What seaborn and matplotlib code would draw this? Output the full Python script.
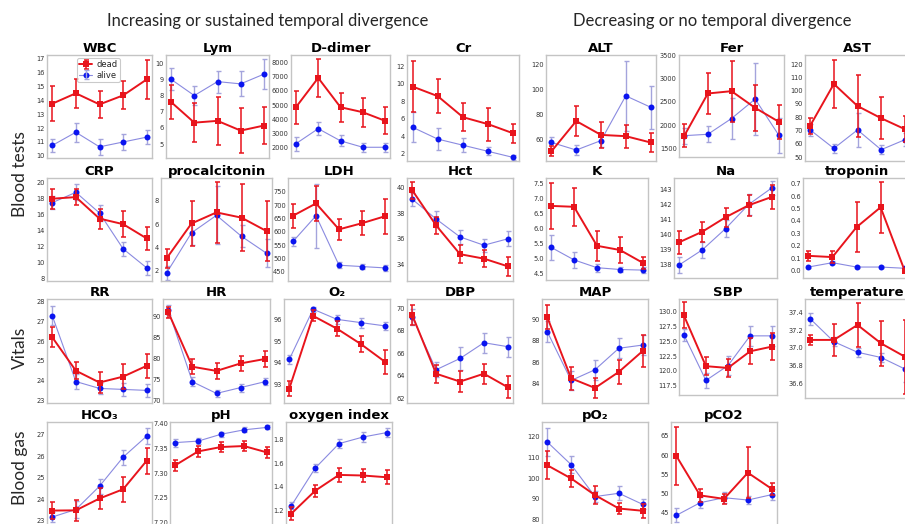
import matplotlib
matplotlib.use("Agg")
import matplotlib.pyplot as plt
import seaborn as sns
import pandas as pd
from matplotlib.legend_handler import HandlerTuple

# ---------------- data (5 time points per panel) ----------------
time_points = [0, 1, 2, 3, 4]
series_labels = ["dead", "alive"]

WBC_dead = [13.75, 14.5, 13.7, 14.35, 15.5]
WBC_dead_err = [1.25, 1.05, 0.95, 1.0, 1.4]
WBC_alive = [10.75, 11.7, 10.65, 11.0, 11.35]
WBC_alive_err = [0.5, 0.7, 0.6, 0.55, 0.5]
WBC_ticks = [10, 11, 12, 13, 14, 15, 16, 17]

Lym_dead = [7.6, 6.33, 6.44, 5.84, 6.15]
Lym_dead_err = [1.03, 1.2, 1.5, 1.4, 1.15]
Lym_alive = [9.0, 8.0, 8.86, 8.72, 9.32]
Lym_alive_err = [0.68, 0.58, 0.68, 0.77, 0.93]
Lym_ticks = [5, 6, 7, 8, 9, 10]

Ddim_dead = [4850, 6900, 4850, 4500, 3900]
Ddim_dead_err = [1150, 1350, 1000, 1000, 950]
Ddim_alive = [2300, 3350, 2500, 2050, 2050]
Ddim_alive_err = [480, 450, 380, 300, 300]
Ddim_ticks = [2000, 3000, 4000, 5000, 6000, 7000, 8000]

Cr_dead = [9.7, 8.6, 6.2, 5.4, 4.35]
Cr_dead_err = [2.95, 1.95, 1.6, 1.9, 1.05]
Cr_alive = [5.05, 3.7, 3.0, 2.3, 1.6]
Cr_alive_err = [1.7, 1.3, 0.8, 0.45, 0.3]
Cr_ticks = [2, 4, 6, 8, 10, 12]

ALT_dead = [51, 75, 64, 63, 58]
ALT_dead_err = [4, 12, 10, 9, 7.5]
ALT_alive = [58, 52, 59.5, 95, 86]
ALT_alive_err = [4.5, 4, 5, 28, 17]
ALT_ticks = [60, 80, 100, 120]

Fer_dead = [1765, 2680, 2730, 2370, 2070]
Fer_dead_err = [250, 450, 660, 500, 370]
Fer_alive = [1770, 1800, 2140, 2560, 1780]
Fer_alive_err = [170, 170, 450, 780, 380]
Fer_ticks = [1500, 2000, 2500, 3000, 3500]

AST_dead = [73.6, 105, 88.4, 79.2, 71]
AST_dead_err = [6, 18, 23, 16, 10]
AST_alive = [70.4, 56.5, 70.4, 55.5, 63]
AST_alive_err = [4.5, 3.5, 12.5, 3.5, 5]
AST_ticks = [50, 60, 70, 80, 90, 100, 110, 120]

CRP_dead = [18.0, 18.2, 15.5, 14.8, 13.0]
CRP_dead_err = [1.25, 1.0, 1.25, 1.6, 1.5]
CRP_alive = [17.5, 18.8, 16.2, 11.7, 9.3]
CRP_alive_err = [0.8, 1.0, 1.0, 0.9, 0.9]
CRP_ticks = [8, 10, 12, 14, 16, 18, 20]

PCT_dead = [3.05, 6.05, 7.0, 6.55, 5.4]
PCT_dead_err = [0.8, 1.9, 2.6, 2.85, 2.6]
PCT_alive = [1.8, 5.25, 6.75, 4.95, 3.5]
PCT_alive_err = [0.6, 1.05, 2.5, 0.95, 1.2]
PCT_ticks = [2, 4, 6, 8]

LDH_dead = [660, 706, 609, 632, 658]
LDH_dead_err = [45, 65, 40, 44, 65]
LDH_alive = [564, 660, 475, 470, 465]
LDH_alive_err = [17, 120, 12, 10, 10]
LDH_ticks = [450, 500, 550, 600, 650, 700, 750]

Hct_dead = [39.8, 37.05, 34.8, 34.45, 33.85]
Hct_dead_err = [0.65, 0.65, 0.7, 0.65, 0.75]
Hct_alive = [39.1, 37.55, 36.15, 35.5, 36.0]
Hct_alive_err = [0.5, 0.6, 0.55, 0.5, 0.6]
Hct_ticks = [34, 36, 38, 40]

K_dead = [6.75, 6.72, 5.42, 5.28, 4.85]
K_dead_err = [0.78, 0.63, 0.5, 0.43, 0.2]
K_alive = [5.37, 4.95, 4.69, 4.63, 4.61]
K_alive_err = [0.42, 0.27, 0.14, 0.09, 0.11]
K_ticks = [4.5, 5.0, 5.5, 6.0, 6.5, 7.0, 7.5]

Na_dead = [139.5, 140.2, 141.15, 141.95, 142.5]
Na_dead_err = [0.75, 0.65, 0.65, 0.7, 0.8]
Na_alive = [138.0, 139.0, 140.4, 142.0, 143.1]
Na_alive_err = [0.5, 0.55, 0.55, 0.7, 0.45]
Na_ticks = [138, 139, 140, 141, 142, 143]

Trop_dead = [0.12, 0.11, 0.35, 0.51, 0.0]
Trop_dead_err = [0.04, 0.045, 0.2, 0.205, 0.01]
Trop_alive = [0.03, 0.065, 0.03, 0.03, 0.02]
Trop_alive_err = [0.005, 0.01, 0.005, 0.005, 0.005]
Trop_ticks = [0.0, 0.1, 0.2, 0.3, 0.4, 0.5, 0.6, 0.7]

RR_dead = [26.2, 24.5, 23.9, 24.2, 24.75]
RR_dead_err = [0.52, 0.42, 0.55, 0.65, 0.6]
RR_alive = [27.3, 23.95, 23.6, 23.55, 23.5]
RR_alive_err = [0.48, 0.4, 0.3, 0.35, 0.33]
RR_ticks = [23, 24, 25, 26, 27, 28]

HR_dead = [91.05, 78.0, 77.0, 78.8, 79.85]
HR_dead_err = [1.4, 1.8, 2.0, 1.75, 1.9]
HR_alive = [91.6, 74.4, 71.6, 73.0, 74.4]
HR_alive_err = [1.2, 1.1, 0.85, 0.95, 0.85]
HR_ticks = [70, 75, 80, 85, 90]

O2_dead = [92.8, 96.16, 95.57, 94.86, 94.05]
O2_dead_err = [0.34, 0.25, 0.35, 0.35, 0.55]
O2_alive = [94.15, 96.47, 96.0, 95.85, 95.7]
O2_alive_err = [0.2, 0.12, 0.2, 0.23, 0.2]
O2_ticks = [93, 94, 95, 96]

DBP_dead = [69.4, 64.2, 63.5, 64.2, 63.0]
DBP_dead_err = [0.9, 0.8, 0.95, 0.9, 1.0]
DBP_alive = [69.25, 64.55, 65.55, 66.95, 66.6]
DBP_alive_err = [0.7, 0.65, 1.05, 0.9, 0.88]
DBP_ticks = [62, 64, 66, 68, 70]

MAP_dead = [90.2, 84.5, 83.6, 85.1, 87.05]
MAP_dead_err = [1.1, 1.05, 0.95, 1.1, 1.5]
MAP_alive = [88.85, 84.3, 85.3, 87.3, 87.6]
MAP_alive_err = [0.95, 0.9, 0.95, 0.95, 0.9]
MAP_ticks = [84, 86, 88, 90]

SBP_dead = [129.35, 120.8, 120.5, 123.3, 124.1]
SBP_dead_err = [2.2, 1.55, 1.45, 2.2, 2.25]
SBP_alive = [126.1, 118.4, 120.9, 125.9, 125.9]
SBP_alive_err = [1.0, 1.2, 1.55, 1.65, 1.65]
SBP_ticks = [117.5, 120.0, 122.5, 125.0, 127.5, 130.0]

Temp_dead = [37.09, 37.09, 37.26, 37.05, 36.9]
Temp_dead_err = [0.06, 0.18, 0.245, 0.255, 0.42]
Temp_alive = [37.33, 37.07, 36.95, 36.89, 36.76]
Temp_alive_err = [0.07, 0.05, 0.05, 0.05, 0.15]
Temp_ticks = [36.6, 36.8, 37.0, 37.2, 37.4]

HCO3_dead = [23.47, 23.48, 24.03, 24.46, 25.79]
HCO3_dead_err = [0.41, 0.48, 0.5, 0.58, 0.6]
HCO3_alive = [23.17, 23.52, 24.6, 25.95, 26.93]
HCO3_alive_err = [0.22, 0.4, 0.35, 0.35, 0.38]
HCO3_ticks = [23, 24, 25, 26, 27]

pH_dead = [7.3155, 7.344, 7.353, 7.355, 7.342]
pH_dead_err = [0.012, 0.011, 0.01, 0.01, 0.012]
pH_alive = [7.362, 7.365, 7.379, 7.388, 7.393]
pH_alive_err = [0.008, 0.006, 0.005, 0.005, 0.004]
pH_ticks = [7.20, 7.25, 7.30, 7.35, 7.40]

OI_dead = [1.17, 1.365, 1.50, 1.495, 1.48]
OI_dead_err = [0.057, 0.05, 0.057, 0.054, 0.06]
OI_alive = [1.237, 1.557, 1.766, 1.822, 1.86]
OI_alive_err = [0.03, 0.035, 0.04, 0.04, 0.04]
OI_ticks = [1.2, 1.4, 1.6, 1.8]

pO2_dead = [106.2, 99.8, 91.7, 85.2, 84.1]
pO2_dead_err = [6.8, 4.0, 4.5, 2.6, 3.3]
pO2_alive = [117.5, 106.5, 91.0, 92.6, 87.2]
pO2_alive_err = [7.0, 4.2, 2.5, 3.5, 2.4]
pO2_ticks = [80, 90, 100, 110, 120]

pCO2_dead = [59.8, 49.5, 48.6, 55.4, 51.2]
pCO2_dead_err = [7.5, 1.7, 1.3, 6.6, 1.5]
pCO2_alive = [44.3, 47.6, 48.9, 48.3, 49.7]
pCO2_alive_err = [1.8, 1.5, 1.5, 1.1, 1.5]
pCO2_ticks = [45, 50, 55, 60, 65]

# ---------------- layout (pixel frames: left, top, right, bottom), y limits, tick formats ----------------
W, H = 905, 524
panels = [
    ("WBC", WBC_dead, WBC_dead_err, WBC_alive, WBC_alive_err, WBC_ticks, "{:.0f}", (9.85, 17.25), (47, 55, 152, 158)),
    ("Lym", Lym_dead, Lym_dead_err, Lym_alive, Lym_alive_err, Lym_ticks, "{:.0f}", (4.15, 10.5), (166, 55, 269, 158)),
    ("D-dimer", Ddim_dead, Ddim_dead_err, Ddim_alive, Ddim_alive_err, Ddim_ticks, "{:.0f}", (1300, 8500), (291, 55, 390, 158)),
    ("Cr", Cr_dead, Cr_dead_err, Cr_alive, Cr_alive_err, Cr_ticks, "{:.0f}", (1.2, 13.3), (407, 55, 519, 161)),
    ("ALT", ALT_dead, ALT_dead_err, ALT_alive, ALT_alive_err, ALT_ticks, "{:.0f}", (43.3, 127.4), (546, 55, 656, 161)),
    ("Fer", Fer_dead, Fer_dead_err, Fer_alive, Fer_alive_err, Fer_ticks, "{:.0f}", (1310, 3510), (679, 55, 784, 157)),
    ("AST", AST_dead, AST_dead_err, AST_alive, AST_alive_err, AST_ticks, "{:.0f}", (47, 126.8), (805, 55, 910, 161)),
    ("CRP", CRP_dead, CRP_dead_err, CRP_alive, CRP_alive_err, CRP_ticks, "{:.0f}", (7.66, 20.6), (47, 178, 152, 281)),
    ("procalcitonin", PCT_dead, PCT_dead_err, PCT_alive, PCT_alive_err, PCT_ticks, "{:.0f}", (1.12, 9.95), (161, 178, 272, 281)),
    ("LDH", LDH_dead, LDH_dead_err, LDH_alive, LDH_alive_err, LDH_ticks, "{:.0f}", (416, 801), (288, 178, 390, 281)),
    ("Hct", Hct_dead, Hct_dead_err, Hct_alive, Hct_alive_err, Hct_ticks, "{:.0f}", (32.7, 40.76), (407, 178, 513, 281)),
    ("K", K_dead, K_dead_err, K_alive, K_alive_err, K_ticks, "{:.1f}", (4.28, 7.68), (546, 178, 648, 280)),
    ("Na", Na_dead, Na_dead_err, Na_alive, Na_alive_err, Na_ticks, "{:.0f}", (137.14, 143.75), (674, 178, 777, 278)),
    ("troponin", Trop_dead, Trop_dead_err, Trop_alive, Trop_alive_err, Trop_ticks, "{:.1f}", (-0.058, 0.745), (803, 178, 910, 278)),
    ("RR", RR_dead, RR_dead_err, RR_alive, RR_alive_err, RR_ticks, "{:.0f}", (22.86, 28.14), (47, 299, 152, 403)),
    ("HR", HR_dead, HR_dead_err, HR_alive, HR_alive_err, HR_ticks, "{:.0f}", (69.3, 94.25), (163, 299, 270, 403)),
    ("O₂", O2_dead, O2_dead_err, O2_alive, O2_alive_err, O2_ticks, "{:.0f}", (92.14, 96.94), (284, 299, 390, 403)),
    ("DBP", DBP_dead, DBP_dead_err, DBP_alive, DBP_alive_err, DBP_ticks, "{:.0f}", (61.6, 70.83), (407, 299, 513, 403)),
    ("MAP", MAP_dead, MAP_dead_err, MAP_alive, MAP_alive_err, MAP_ticks, "{:.0f}", (82.2, 91.89), (542, 299, 648, 403)),
    ("SBP", SBP_dead, SBP_dead_err, SBP_alive, SBP_alive_err, SBP_ticks, "{:.1f}", (115.95, 132.1), (679, 299, 777, 395)),
    ("temperature", Temp_dead, Temp_dead_err, Temp_alive, Temp_alive_err, Temp_ticks, "{:.1f}", (36.43, 37.555), (805, 299, 910, 398)),
    ("HCO₃", HCO3_dead, HCO3_dead_err, HCO3_alive, HCO3_alive_err, HCO3_ticks, "{:.0f}", (22.8, 27.58), (47, 422, 152, 525)),
    ("pH", pH_dead, pH_dead_err, pH_alive, pH_alive_err, pH_ticks, "{:.2f}", (7.194, 7.404), (170, 422, 272, 525)),
    ("oxygen index", OI_dead, OI_dead_err, OI_alive, OI_alive_err, OI_ticks, "{:.1f}", (1.074, 1.95), (286, 422, 392, 525)),
    ("pO₂", pO2_dead, pO2_dead_err, pO2_alive, pO2_alive_err, pO2_ticks, "{:.0f}", (77.2, 127.2), (542, 422, 648, 525)),
    ("pCO2", pCO2_dead, pCO2_dead_err, pCO2_alive, pCO2_alive_err, pCO2_ticks, "{:.0f}", (41.8, 68.6), (671, 422, 777, 525)),
]

DEAD_C = "#e8141c"
ALIVE_C = "#0a14f0"
ALIVE_LINE = "#8a8ae0"
ALIVE_ERR = "#a4a4dc"

sns.set_theme(style="white")
plt.rcParams["font.family"] = ["DejaVu Sans"]

fig = plt.figure(figsize=(W / 100, H / 100), dpi=100)
fig.patch.set_facecolor("white")

for idx, (title, d, de, a, ae, ticks, fmt, ylim, frame) in enumerate(panels):
    l, t, r, b = frame
    ax = fig.add_axes([l / W, 1 - b / H, (r - l) / W, (b - t) / H])
    df_a = pd.DataFrame({"t": time_points, "v": a})
    df_d = pd.DataFrame({"t": time_points, "v": d})

    eb_a = ax.errorbar(time_points, a, yerr=ae, fmt="none", ecolor=ALIVE_ERR,
                       elinewidth=1.0, capsize=1.8, capthick=1.0, zorder=2)
    sns.lineplot(data=df_a, x="t", y="v", ax=ax, color=ALIVE_LINE, linewidth=0.8,
                 marker="o", markersize=4.3, markerfacecolor=ALIVE_C,
                 markeredgecolor=ALIVE_C, markeredgewidth=0, errorbar=None, zorder=3)
    line_a = ax.lines[-1]
    eb_d = ax.errorbar(time_points, d, yerr=de, fmt="none", ecolor=DEAD_C,
                       elinewidth=1.1, capsize=1.8, capthick=1.1, zorder=4)
    sns.lineplot(data=df_d, x="t", y="v", ax=ax, color=DEAD_C, linewidth=1.4,
                 marker="s", markersize=4.4, markerfacecolor=DEAD_C,
                 markeredgecolor=DEAD_C, markeredgewidth=0, errorbar=None, zorder=5)
    line_d = ax.lines[-1]

    ax.set_xlim(-0.22, 4.22)
    ax.set_ylim(*ylim)
    ax.set_xticks([])
    ax.set_yticks(ticks)
    ax.set_yticklabels([fmt.format(v) for v in ticks])
    ax.tick_params(axis="y", length=0, pad=1.5, labelsize=4.8, labelcolor="#333333")
    ax.set_xlabel("")
    ax.set_ylabel("")
    for s in ax.spines.values():
        s.set_color("#c4c4c4")
        s.set_linewidth(1.0)
    ax.set_title(title, fontsize=9.5, fontweight="bold", pad=1.5, color="black")

    if idx == 0:
        leg = ax.legend([(line_d, eb_d), (line_a, eb_a)], series_labels,
                        handler_map={tuple: HandlerTuple(ndivide=1)},
                        loc="upper left", bbox_to_anchor=(0.27, 0.985), fontsize=6,
                        frameon=True, handlelength=1.6, borderpad=0.25,
                        labelspacing=0.15, handletextpad=0.5, borderaxespad=0.2)
        leg.get_frame().set_edgecolor("#bdbdbd")
        leg.get_frame().set_linewidth(0.8)

head_font = ["Lato", "DejaVu Sans"]
fig.text(268 / W, 1 - 21 / H, "Increasing or sustained temporal divergence",
         ha="center", va="center", fontsize=12, family=head_font)
fig.text(712 / W, 1 - 21 / H, "Decreasing or no temporal divergence",
         ha="center", va="center", fontsize=12, family=head_font)
fig.text(20 / W, 1 - 174 / H, "Blood tests", rotation=90, ha="center", va="center",
         fontsize=12.5, family=head_font)
fig.text(20 / W, 1 - 348 / H, "Vitals", rotation=90, ha="center", va="center",
         fontsize=12.5, family=head_font)
fig.text(20 / W, 1 - 468 / H, "Blood gas", rotation=90, ha="center", va="center",
         fontsize=12.5, family=head_font)

fig.savefig("out.png", dpi=100, facecolor="white")
